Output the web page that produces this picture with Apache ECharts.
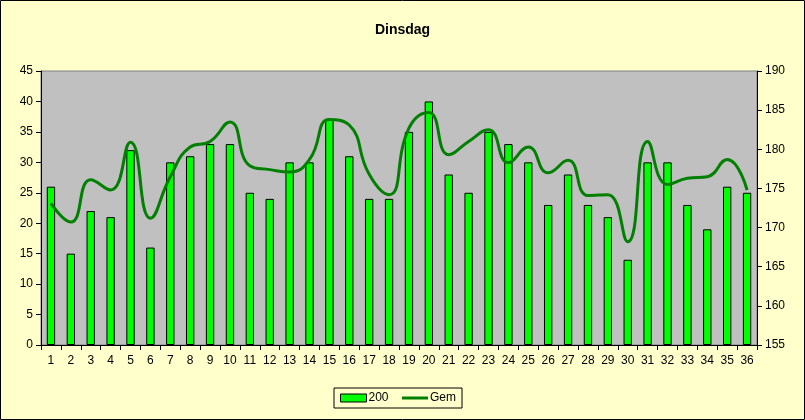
<!DOCTYPE html>
<html>
<head>
<meta charset="utf-8">
<script src="https://cdn.jsdelivr.net/npm/echarts@6/dist/echarts.min.js"></script>
<style>
html,body{margin:0;padding:0;background:#FFFFCC;}
#c{width:805px;height:420px;}
</style>
</head>
<body>
<div id="c"></div>
<script>
const categories = ['1','2','3','4','5','6','7','8','9','10','11','12','13','14','15','16','17','18','19','20','21','22','23','24','25','26','27','28','29','30','31','32','33','34','35','36'];
const values200 = [26,15,22,21,32,16,30,31,33,33,25,24,30,30,37,31,24,24,35,40,28,25,35,33,30,23,28,23,21,14,30,30,23,19,26,25];
const valuesGem = [173.1,170.7,176.1,174.8,180.9,171.2,176.5,180.3,181.0,183.5,177.9,177.4,177.1,178.7,183.8,183.1,176.8,174.2,182.7,184.7,179.3,181.0,182.5,178.3,180.3,177.0,178.6,174.1,174.2,168.2,181.0,175.5,176.3,176.5,178.7,174.8];
const leftTicks = {min:0, max:45, interval:5};
const rightTicks = {min:155, max:190, interval:5};

const chart = echarts.init(document.getElementById('c'));
const font = 'Liberation Sans, Arial, sans-serif';
chart.setOption({
  backgroundColor: '#FFFFCC',
  animation: false,
  textStyle: {fontFamily: font},
  graphic: [{
    type: 'rect', z: 100, silent: true,
    shape: {x: 0.5, y: 0.5, width: 804, height: 419},
    style: {fill: 'none', stroke: '#000', lineWidth: 1}
  }],
  title: {
    text: 'Dinsdag', left: 'center', top: 18,
    textStyle: {fontFamily: font, fontSize: 14, fontWeight: 'bold', color: '#000'}
  },
  legend: {
    left: 334, top: 388, width: 127,
    backgroundColor: '#FFFFCC', borderColor: '#000', borderWidth: 1,
    padding: [4, 6, 4, 6], itemGap: 12, itemWidth: 26, itemHeight: 8,
    textStyle: {fontFamily: font, fontSize: 12, color: '#000', padding: [0,0,0,-3]},
    data: [
      {name: '200', icon: 'rect', itemStyle: {color: '#00FF00', borderColor: '#000', borderWidth: 1}},
      {name: 'Gem', itemStyle: {opacity: 0}, lineStyle: {color: '#008000', width: 3, opacity: 1}}
    ]
  },
  grid: {
    left: 41, right: 48, top: 71, bottom: 75,
    show: true, backgroundColor: '#C0C0C0', borderColor: '#808080', borderWidth: 1
  },
  xAxis: {
    type: 'category', data: categories,
    axisLine: {lineStyle: {color: '#000', width: 1}},
    axisTick: {show: true, alignWithLabel: false, length: 5, lineStyle: {color: '#000'}},
    axisLabel: {color: '#000', fontSize: 12, fontFamily: font, margin: 10, interval: 0},
    splitLine: {show: false}
  },
  yAxis: [{
    type: 'value', min: leftTicks.min, max: leftTicks.max, interval: leftTicks.interval,
    axisLine: {show: true, lineStyle: {color: '#000'}},
    axisTick: {show: true, length: 5, lineStyle: {color: '#000'}},
    axisLabel: {color: '#000', fontSize: 12, fontFamily: font, margin: 8},
    splitLine: {show: false}
  }, {
    type: 'value', min: rightTicks.min, max: rightTicks.max, interval: rightTicks.interval,
    position: 'right',
    axisLine: {show: true, lineStyle: {color: '#000'}},
    axisTick: {show: true, length: 5, lineStyle: {color: '#000'}},
    axisLabel: {color: '#000', fontSize: 12, fontFamily: font, margin: 8},
    splitLine: {show: false}
  }],
  series: [{
    name: '200', type: 'bar', yAxisIndex: 0, data: values200,
    barWidth: '42%',
    itemStyle: {color: '#00FF00', borderColor: '#000', borderWidth: 1}
  }, {
    name: 'Gem', type: 'line', yAxisIndex: 1, data: valuesGem,
    smooth: 0.5, symbol: 'none',
    lineStyle: {color: '#008000', width: 3},
    itemStyle: {color: '#008000'}
  }]
});
</script>
</body>
</html>
